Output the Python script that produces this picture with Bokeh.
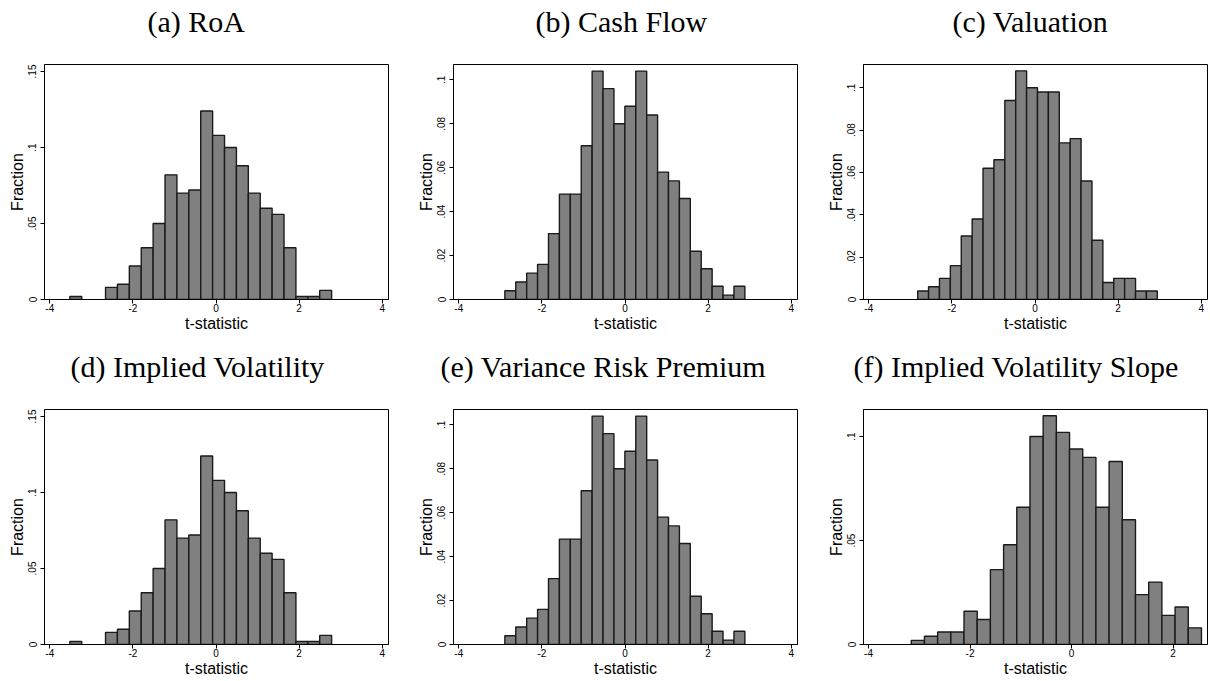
from bokeh.plotting import figure
from bokeh.layouts import column, row
from bokeh.models import FixedTicker, Range1d, Title
from bokeh.embed import file_html
from bokeh.resources import INLINE

# ---------------- data (fractions per bin) ----------------
TITLES = ["(a) RoA", "(b) Cash Flow", "(c) Valuation",
          "(d) Implied Volatility", "(e) Variance Risk Premium",
          "(f) Implied Volatility Slope"]

# panel (a) RoA
start_a = -3.518
width_a = 0.2864
frac_a = [0.002, 0.0, 0.0, 0.008, 0.010, 0.022, 0.034, 0.050, 0.082, 0.070, 0.072,
          0.124, 0.108, 0.100, 0.088, 0.070, 0.060, 0.056, 0.034, 0.002, 0.002, 0.006]

# panel (b) Cash Flow
start_b = -2.892
width_b = 0.2626
frac_b = [0.004, 0.008, 0.012, 0.016, 0.030, 0.048, 0.048, 0.070, 0.104, 0.096, 0.080,
          0.088, 0.104, 0.084, 0.058, 0.054, 0.046, 0.022, 0.014, 0.006, 0.002, 0.006]

# panel (c) Valuation
start_c = -2.824
width_c = 0.2622
frac_c = [0.004, 0.006, 0.010, 0.016, 0.030, 0.038, 0.062, 0.066, 0.094, 0.108, 0.100,
          0.098, 0.098, 0.074, 0.076, 0.056, 0.028, 0.008, 0.010, 0.010, 0.004, 0.004]

# panel (d) Implied Volatility
start_d = -3.518
width_d = 0.2864
frac_d = [0.002, 0.0, 0.0, 0.008, 0.010, 0.022, 0.034, 0.050, 0.082, 0.070, 0.072,
          0.124, 0.108, 0.100, 0.088, 0.070, 0.060, 0.056, 0.034, 0.002, 0.002, 0.006]

# panel (e) Variance Risk Premium
start_e = -2.892
width_e = 0.2626
frac_e = [0.004, 0.008, 0.012, 0.016, 0.030, 0.048, 0.048, 0.070, 0.104, 0.096, 0.080,
          0.088, 0.104, 0.084, 0.058, 0.054, 0.046, 0.022, 0.014, 0.006, 0.002, 0.006]

# panel (f) Implied Volatility Slope
start_f = -3.158
width_f = 0.2599
frac_f = [0.002, 0.004, 0.006, 0.006, 0.016, 0.012, 0.036, 0.048, 0.066, 0.100, 0.110,
          0.102, 0.094, 0.090, 0.066, 0.088, 0.060, 0.024, 0.030, 0.014, 0.018, 0.008]

# axis ticks / ranges
x_ticks_full = [-4, -2, 0, 2, 4]
x_ticks_f = [-4, -2, 0, 2]
y_ticks_a = [0, 0.05, 0.10, 0.15]
y_ticks_b = [0, 0.02, 0.04, 0.06, 0.08, 0.10]
y_ticks_f = [0, 0.05, 0.10]

x_range_full = (-4.128, 4.152)
x_range_f = (-4.099, 2.679)
y_top_a = 0.1546
y_top_b = 0.107
y_top_c = 0.111
y_top_f = 0.113

# horizontal offset of each title from the left edge of its plot frame (px)
TITLE_OFFSETS = [103, 82, 89, 26, -13, -10]


def fmt(v):
    if v == 0:
        return "0"
    s = "%g" % v
    if s.startswith("0."):
        s = s[1:]
    return s


def panel(title, t_off, start, width, fracs, xr, ytop, xticks, yticks,
          right_border, bottom_border):
    p = figure(output_backend="svg", toolbar_location=None,
               frame_width=344, frame_height=235,
               min_border_left=44, min_border_right=right_border,
               min_border_top=64, min_border_bottom=bottom_border,
               x_range=Range1d(*xr), y_range=Range1d(0, ytop),
               background_fill_color="white", border_fill_color="white")
    lefts = [start + i * width for i in range(len(fracs))]
    rights = [start + (i + 1) * width for i in range(len(fracs))]
    keep = [i for i, f in enumerate(fracs) if f > 0]
    p.quad(left=[lefts[i] for i in keep], right=[rights[i] for i in keep],
           top=[fracs[i] for i in keep], bottom=0,
           fill_color="#808080", line_color="#1a1a1a", line_width=1.4)

    # thin spacer between the plot frame and the title
    p.add_layout(Title(text=" ", text_font_size="1px", standoff=24), "above")

    p.title.text = title
    p.title.text_font = "Liberation Serif"
    p.title.text_font_size = "30px"
    p.title.text_font_style = "normal"
    p.title.text_color = "black"
    p.title.align = "left"
    p.title.offset = t_off
    p.title.standoff = 0

    p.xgrid.visible = False
    p.ygrid.visible = False
    p.outline_line_color = "black"
    p.outline_line_width = 1

    xa = p.xaxis[0]
    xa.ticker = FixedTicker(ticks=xticks)
    xa.major_label_overrides = {t: str(t) for t in xticks}
    xa.minor_tick_line_color = None
    xa.major_tick_out = 4
    xa.major_tick_in = 0
    xa.major_label_standoff = 0
    xa.major_label_text_font = "Liberation Sans"
    xa.major_label_text_font_size = "10px"
    xa.major_label_text_color = "black"
    xa.axis_label = "t-statistic"
    xa.axis_label_text_font = "Liberation Sans"
    xa.axis_label_text_font_size = "16px"
    xa.axis_label_text_font_style = "normal"
    xa.axis_label_text_color = "black"
    xa.axis_label_standoff = 0
    xa.axis_line_color = "black"
    xa.major_tick_line_color = "black"

    ya = p.yaxis[0]
    ya.ticker = FixedTicker(ticks=yticks)
    ya.major_label_overrides = {t: fmt(t) for t in yticks}
    ya.major_label_orientation = "vertical"
    ya.minor_tick_line_color = None
    ya.major_tick_out = 4
    ya.major_tick_in = 0
    ya.major_label_standoff = 4
    ya.major_label_text_font = "Liberation Sans"
    ya.major_label_text_font_size = "10px"
    ya.major_label_text_color = "black"
    ya.axis_label = "Fraction"
    ya.axis_label_text_font = "Liberation Sans"
    ya.axis_label_text_font_size = "16px"
    ya.axis_label_text_font_style = "normal"
    ya.axis_label_text_color = "black"
    ya.axis_label_standoff = 0
    ya.axis_line_color = "black"
    ya.major_tick_line_color = "black"
    return p


pa = panel(TITLES[0], TITLE_OFFSETS[0], start_a, width_a, frac_a, x_range_full, y_top_a,
           x_ticks_full, y_ticks_a, 21, 46)
pb = panel(TITLES[1], TITLE_OFFSETS[1], start_b, width_b, frac_b, x_range_full, y_top_b,
           x_ticks_full, y_ticks_b, 22, 46)
pc = panel(TITLES[2], TITLE_OFFSETS[2], start_c, width_c, frac_c, x_range_full, y_top_c,
           x_ticks_full, y_ticks_b, 3, 46)
pd = panel(TITLES[3], TITLE_OFFSETS[3], start_d, width_d, frac_d, x_range_full, y_top_a,
           x_ticks_full, y_ticks_a, 21, 37)
pe = panel(TITLES[4], TITLE_OFFSETS[4], start_e, width_e, frac_e, x_range_full, y_top_b,
           x_ticks_full, y_ticks_b, 22, 37)
pf = panel(TITLES[5], TITLE_OFFSETS[5], start_f, width_f, frac_f, x_range_f, y_top_f,
           x_ticks_f, y_ticks_f, 3, 37)

layout = column(row(pa, pb, pc, spacing=0), row(pd, pe, pf, spacing=0), spacing=0)

open("out.html", "w").write(file_html(layout, INLINE))
